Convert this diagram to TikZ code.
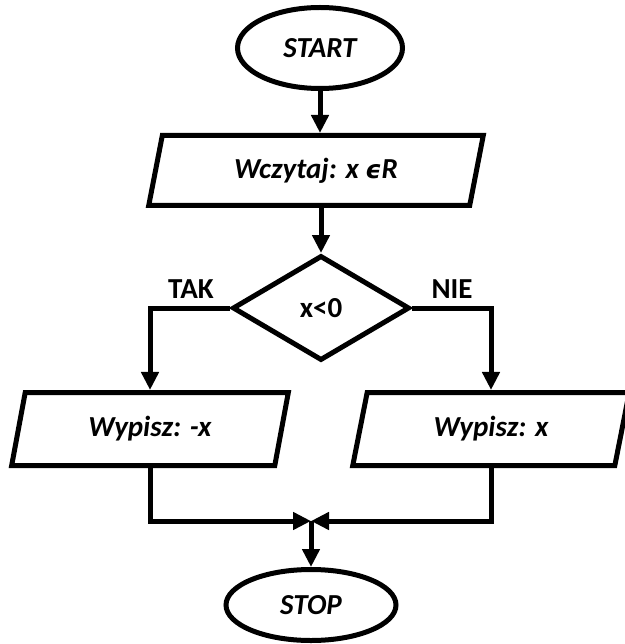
\documentclass[tikz,border=0pt]{standalone}
\usepackage{fontspec}
\setmainfont{Carlito}
\newfontfamily\dvfont{DejaVu Sans}
\usetikzlibrary{shapes.geometric,arrows.meta}
\begin{document}
\begin{tikzpicture}[x=1pt,y=-1pt,
  every node/.style={font=\fontsize{29}{32}\selectfont\bfseries},
  it/.style={font=\fontsize{29}{32}\selectfont\bfseries\itshape},
  shapebox/.style={draw, line width=5pt, inner sep=0pt},
  iobox/.style={shapebox, it, trapezium, trapezium stretches=true},
  arr/.style={line width=5pt, -{Triangle[length=18pt,width=17pt]}}]
\useasboundingbox (0,0) rectangle (624,644);
\node[shapebox, it, ellipse, minimum width=165pt, minimum height=81pt] (start) at (320,48) {START};
\node[iobox, trapezium left angle=74, trapezium right angle=106, minimum width=335pt, minimum height=70pt] (read) at (316,170.5) {Wczytaj: x {\dvfont\fontsize{25}{30}\selectfont ϵ}R};
\node[shapebox, diamond, minimum width=177pt, minimum height=105pt] (dec) at (321,308) {x<0};
\node (tak) at (191,289) {TAK};
\node (nie) at (452,289) {NIE};
\node[iobox, trapezium left angle=75, trapezium right angle=105, minimum width=277pt, minimum height=73pt] (lbox) at (150,429) {Wypisz: -x};
\node[iobox, trapezium left angle=75, trapezium right angle=105, minimum width=277pt, minimum height=73pt] (rbox) at (491,429) {Wypisz: x};
\coordinate (m) at (311,521);
\node[shapebox, it, ellipse, minimum width=170pt, minimum height=71pt] (stop) at (311,605) {STOP};
\draw[arr] (start.south) -- (start.south |- read.north);
\draw[arr] (dec.north |- read.south) -- (dec.north);
\draw[arr] (dec.west) -| (lbox.north);
\draw[arr] (dec.east) -| (rbox.north);
\draw[arr] (lbox.south) |- (m);
\draw[arr] (rbox.south) |- (m);
\draw[arr] (m) -- (stop.north);
\end{tikzpicture}
\end{document}
